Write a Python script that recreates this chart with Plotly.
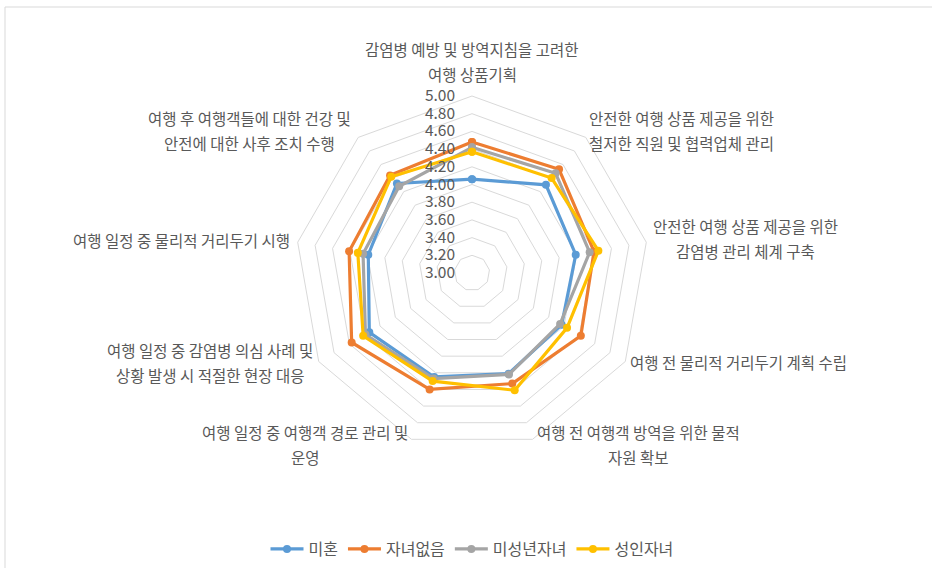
import plotly.graph_objects as go

# each category label as it is wrapped on the chart
CATEGORY_LINES = [
    ["감염병 예방 및 방역지침을 고려한", "여행 상품기획"],
    ["안전한 여행 상품 제공을 위한", "철저한 직원 및 협력업체 관리"],
    ["안전한 여행 상품 제공을 위한", "감염병 관리 체계 구축"],
    ["여행 전 물리적 거리두기 계획 수립"],
    ["여행 전 여행객 방역을 위한 물적", "자원 확보"],
    ["여행 일정 중 여행객 경로 관리 및", "운영"],
    ["여행 일정 중 감염병 의심 사례 및", "상황 발생 시 적절한 현장 대응"],
    ["여행 일정 중 물리적 거리두기 시행"],
    ["여행 후 여행객들에 대한 건강 및", "안전에 대한 사후 조치 수행"],
]
CATEGORIES = [" ".join(lines) for lines in CATEGORY_LINES]

SERIES_NAMES = ["미혼", "자녀없음", "미성년자녀", "성인자녀"]
SERIES_COLORS = ["#5B9BD5", "#ED7D31", "#A5A5A5", "#FFC000"]

MIHON = [4.06, 4.30, 4.19, 4.17, 4.21, 4.25, 4.34, 4.19, 4.32]
NO_CHILD = [4.48, 4.53, 4.40, 4.42, 4.33, 4.40, 4.57, 4.41, 4.44]
MINOR_CHILD = [4.42, 4.47, 4.35, 4.15, 4.22, 4.27, 4.39, 4.25, 4.28]
ADULT_CHILD = [4.37, 4.40, 4.45, 4.24, 4.41, 4.30, 4.42, 4.31, 4.42]

RADIAL_TICKS = [3.0, 3.2, 3.4, 3.6, 3.8, 4.0, 4.2, 4.4, 4.6, 4.8, 5.0]

FONT = "Noto Sans CJK KR, Noto Sans, sans-serif"
TEXT_COLOR = "#595959"
GRID_COLOR = "#D9D9D9"
FS = 15.5

W, H = 932, 568
CX, CY, R = 472, 273, 177

# label block centres (pixels from top-left), Excel-style centred text
LABEL_POS = [(472, 62), (681, 130), (745, 239), (738, 362), (638, 444),
             (305, 444), (210, 362), (181, 240), (250, 130)]
LINE_GAP = 25

fig = go.Figure()
for name, color, vals in zip(SERIES_NAMES, SERIES_COLORS,
                             [MIHON, NO_CHILD, MINOR_CHILD, ADULT_CHILD]):
    fig.add_trace(go.Scatterpolar(
        r=vals + vals[:1],
        theta=CATEGORIES + CATEGORIES[:1],
        name=name,
        mode="lines+markers",
        line=dict(color=color, width=3.2),
        marker=dict(color=color, size=8),
    ))

annotations = []
for lines, (lx, ly) in zip(CATEGORY_LINES, LABEL_POS):
    y0 = ly - LINE_GAP * (len(lines) - 1) / 2
    for i, line in enumerate(lines):
        annotations.append(dict(
            text=line, x=lx / W, y=1 - (y0 + i * LINE_GAP) / H,
            xref="paper", yref="paper", showarrow=False,
            xanchor="center", yanchor="middle",
            font=dict(size=FS, color=TEXT_COLOR),
        ))

fig.update_layout(
    width=W,
    height=H,
    paper_bgcolor="white",
    plot_bgcolor="white",
    margin=dict(l=0, r=0, t=0, b=0),
    font=dict(family=FONT, size=FS, color=TEXT_COLOR),
    polar=dict(
        domain=dict(x=[(CX - R) / W, (CX + R) / W],
                    y=[(H - CY - R) / H, (H - CY + R) / H]),
        gridshape="linear",
        bgcolor="white",
        radialaxis=dict(
            range=[3, 5],
            tickvals=RADIAL_TICKS,
            tickformat=".2f",
            angle=90,
            tickangle=90,
            side="counterclockwise",
            showline=False,
            ticks="outside",
            ticklen=11,
            tickcolor="rgba(0,0,0,0)",
            gridcolor=GRID_COLOR,
            gridwidth=1,
            tickfont=dict(size=FS, color=TEXT_COLOR),
        ),
        angularaxis=dict(
            direction="clockwise",
            rotation=90,
            showgrid=False,
            showline=True,
            linecolor=GRID_COLOR,
            linewidth=1,
            showticklabels=False,
            ticks="",
        ),
    ),
    annotations=annotations,
    legend=dict(
        orientation="h",
        x=472 / W,
        xanchor="center",
        y=1 - 549 / H,
        yanchor="middle",
        itemwidth=33,
        font=dict(size=16, color=TEXT_COLOR),
    ),
    shapes=[dict(
        type="rect", xref="paper", yref="paper",
        x0=5 / W, x1=1.02, y0=-0.02, y1=1 - 7 / H,
        line=dict(color="#D9D9D9", width=1),
    )],
)

fig.write_html("out.html", config={"displayModeBar": False},
               post_script="document.body.style.margin='0';")
